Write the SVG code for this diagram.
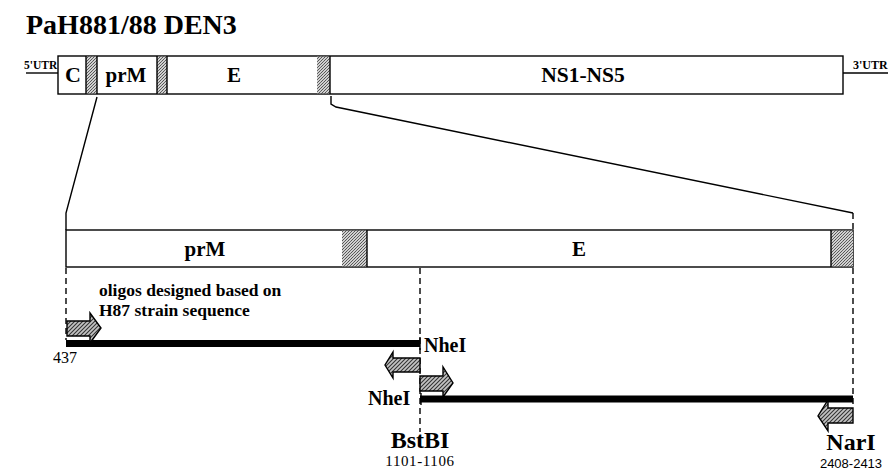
<svg xmlns="http://www.w3.org/2000/svg" width="892" height="471" viewBox="0 0 892 471">
<style>
  .t { font-family: "Liberation Serif", "Times New Roman", serif; fill: #000; }
  .b { font-weight: bold; }
  .box { fill: #fff; stroke: #000; stroke-width: 1.4; }
  .st { fill: url(#stip); stroke: none; }
  .ln { stroke: #000; stroke-width: 1.4; fill: none; }
  .dash { stroke: #000; stroke-width: 1.4; stroke-dasharray: 6 4; fill: none; }
  .thick { stroke: #000; stroke-width: 7; fill: none; }
  .arr { fill: url(#hatch); stroke: #000; stroke-width: 1.4; }
</style>
<defs>
  <pattern id="stip" width="3" height="3" patternUnits="userSpaceOnUse">
    <rect width="3" height="3" fill="#d0d0d0"/>
    <rect width="1" height="1" fill="#555"/>
    <rect x="2" y="1" width="1" height="1" fill="#666"/>
    <rect x="1" y="2" width="1" height="1" fill="#555"/>
  </pattern>
  <pattern id="hatch" width="4" height="4" patternUnits="userSpaceOnUse">
    <rect width="4" height="4" fill="#c4c4c4"/>
    <path d="M0 4 L4 0 M-1 1 L1 -1 M3 5 L5 3" stroke="#333" stroke-width="1.1"/>
  </pattern>
</defs>
<rect width="892" height="471" fill="#fff"/>

<text class="t b" x="26" y="34" font-size="28">PaH881/88 DEN3</text>

<g id="genome">
  <line class="ln" x1="26" y1="73" x2="58" y2="73"/>
  <text class="t b" x="24" y="69" font-size="11.5">5'UTR</text>
  <rect class="box" x="58" y="56" width="785" height="38"/>
  <rect class="st" x="86" y="56.7" width="11" height="36.6"/>
  <rect class="st" x="157" y="56.7" width="10" height="36.6"/>
  <rect class="st" x="317" y="56.7" width="13" height="36.6"/>
  <line class="ln" x1="86" y1="56" x2="86" y2="94"/>
  <line class="ln" x1="97" y1="56" x2="97" y2="94"/>
  <line class="ln" x1="157" y1="56" x2="157" y2="94"/>
  <line class="ln" x1="167" y1="56" x2="167" y2="94"/>
  <line class="ln" x1="330" y1="56" x2="330" y2="94" stroke-width="2"/>
  <text class="t b" x="73" y="82" font-size="22" text-anchor="middle">C</text>
  <text class="t b" x="126" y="82" font-size="21" text-anchor="middle">prM</text>
  <text class="t b" x="234" y="82" font-size="21" text-anchor="middle">E</text>
  <text class="t b" x="583" y="82" font-size="21.5" text-anchor="middle">NS1-NS5</text>
  <line class="ln" x1="843" y1="73" x2="888" y2="73"/>
  <text class="t b" x="853" y="69" font-size="12">3'UTR</text>
</g>

<g id="connectors">
  <polyline class="ln" points="97,97 66,213 66,230"/>
  <polyline class="ln" points="331,96 331,104 336,107 853,213"/>
  <line class="dash" x1="853" y1="213" x2="853" y2="230"/>
  <line class="dash" x1="66" y1="268" x2="66" y2="340"/>
  <line class="dash" x1="420" y1="268" x2="420" y2="432"/>
  <line class="dash" x1="853" y1="268" x2="853" y2="405"/>
</g>

<g id="expanded">
  <rect class="box" x="66" y="230" width="787" height="37"/>
  <rect class="st" x="342" y="230.7" width="25" height="35.6"/>
  <rect class="st" x="831" y="230.7" width="22" height="35.6"/>
  <line class="ln" x1="367" y1="230" x2="367" y2="267" stroke-width="2"/>
  <line class="ln" x1="831" y1="230" x2="831" y2="267"/>
  <text class="t b" x="205" y="256" font-size="21" text-anchor="middle">prM</text>
  <text class="t b" x="579" y="256" font-size="21" text-anchor="middle">E</text>
</g>

<g id="label-oligos">
  <text class="t b" x="99" y="296" font-size="17.5">oligos designed based on</text>
  <text class="t b" x="99" y="316" font-size="17.5">H87 strain sequence</text>
</g>

<g id="fragment1">
  <line class="thick" x1="66" y1="343.5" x2="420" y2="343.5"/>
  <line class="ln" x1="420" y1="337" x2="420" y2="350" stroke-width="2"/>
  <text class="t" x="53" y="363" font-size="16">437</text>
  <polygon class="arr" points="67,321 90,321 90,313 101,328 90,343 90,336 67,336"/>
  <polygon class="arr" points="420,358 393,358 393,352 385,365 393,378 393,372 420,372"/>
  <text class="t b" x="424" y="352" font-size="20">NheI</text>
</g>

<g id="fragment2">
  <line class="thick" x1="420" y1="399" x2="853" y2="399"/>
  <line class="ln" x1="421" y1="393" x2="421" y2="405" stroke-width="2"/>
  <polygon class="arr" points="420,376 443,376 443,367 453,383 443,397 443,391 420,391"/>
  <text class="t b" x="368" y="405" font-size="20">NheI</text>
  <polygon class="arr" points="853,408 828,408 828,400 818,416 828,431 828,423 853,423"/>
</g>

<g id="site-bstbi">
  <text class="t b" x="420" y="448" font-size="24" text-anchor="middle">BstBI</text>
  <text class="t" x="420" y="466" font-size="15" text-anchor="middle" letter-spacing="0.6">1101-1106</text>
</g>

<g id="site-nari">
  <text class="t b" x="851" y="450" font-size="24" text-anchor="middle">NarI</text>
  <text x="851" y="468" font-size="13" text-anchor="middle" font-family="Liberation Sans, Arial, sans-serif">2408-2413</text>
</g>
</svg>
